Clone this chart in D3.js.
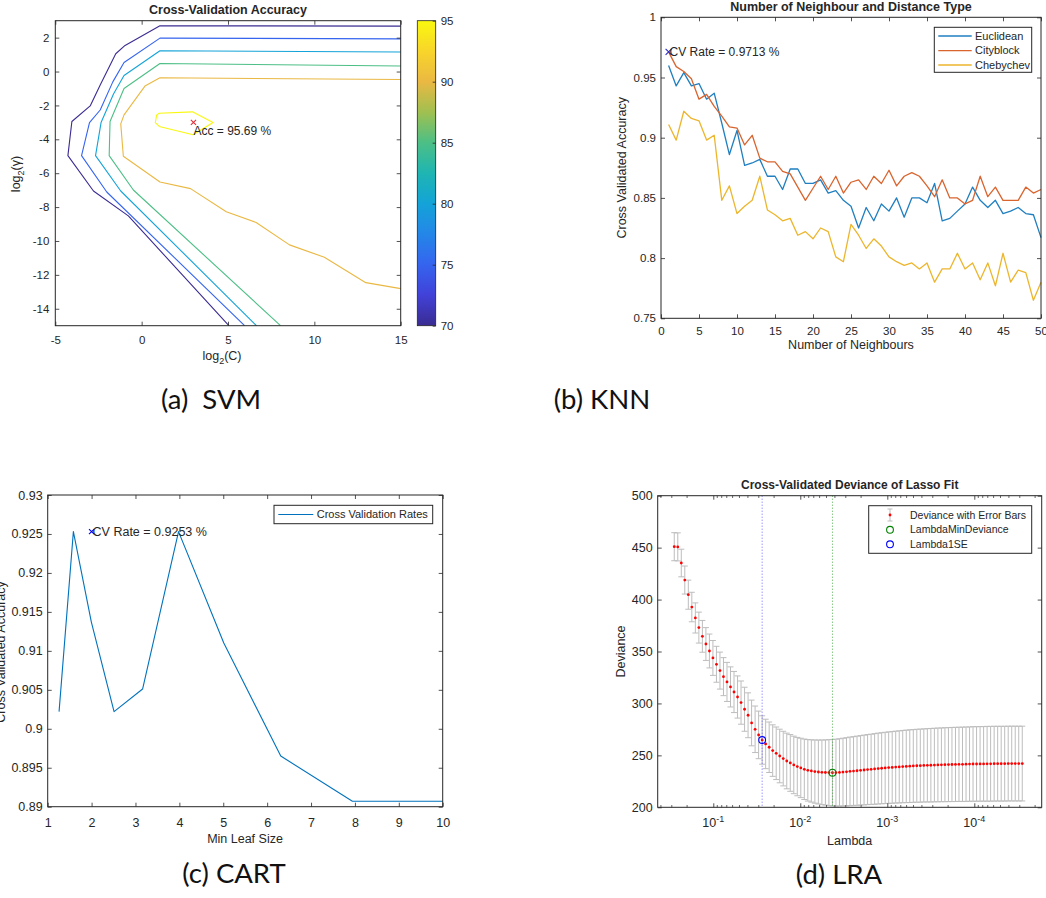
<!DOCTYPE html>
<html>
<head>
<meta charset="utf-8">
<script src="https://cdn.jsdelivr.net/npm/d3@7/dist/d3.min.js"></script>
<style>
  html, body { margin: 0; padding: 0; background: #fff; }
  svg { display: block; }
</style>
</head>
<body>
<svg id="fig" width="1046" height="898"></svg>
<script>
// ---------------------------------------------------------------
// (a) SVM grid search: contour lines of CV accuracy over log2(C), log2(gamma)
// ---------------------------------------------------------------
const svmLevels = [70, 75, 80, 85, 90, 95];
const svmContour70 = [[15, 2.68], [1.06, 2.70], [-0.96, 1.54], [-1.50, 1.05], [-2.40, -0.80], [-2.98, -2.03],
  [-4.04, -2.95], [-4.27, -4.96], [-2.79, -7.05], [-0.77, -8.52], [5.05, -15]];
const svmContour75 = [[15, 1.93], [1.06, 1.97], [-1.02, 0.53], [-1.67, -0.61], [-2.40, -2.27], [-3.02, -3.01],
  [-3.48, -4.96], [-2.02, -7.11], [5.96, -15]];
const svmContour80 = [[15, 1.15], [1.06, 1.23], [-1.02, -0.23], [-1.63, -1.33], [-2.35, -3.01], [-2.67, -4.96],
  [-1.21, -7.05], [6.65, -15]];
const svmContour85 = [[15, 0.33], [1.06, 0.47], [-1.02, -1.00], [-1.83, -2.95], [-1.88, -4.96], [-0.48, -6.99],
  [8.04, -15]];
const svmContour90 = [[15, -0.47], [1.06, -0.37], [0.19, -0.86], [-1.02, -2.56], [-1.21, -3.09], [-1.06, -5.00],
  [1.06, -6.52], [2.83, -6.91], [4.90, -8.28], [6.63, -8.91], [8.56, -10.23], [10.58, -10.96],
  [12.98, -12.46], [15, -12.81]];
const svmContour95 = [[0.87, -2.56], [1.02, -2.46], [2.94, -2.38], [4.13, -3.01], [2.98, -3.73], [1.02, -3.24],
  [0.79, -3.01], [0.87, -2.56]];
const svmContours = [svmContour70, svmContour75, svmContour80, svmContour85, svmContour90, svmContour95];
const svmBest = { log2C: 3, log2G: -3, acc: 95.69 };
const svmXTicks = [-5, 0, 5, 10, 15];
const svmYTicks = [-14, -12, -10, -8, -6, -4, -2, 0, 2];
const colorbarTicks = [70, 75, 80, 85, 90, 95];

// ---------------------------------------------------------------
// (b) KNN: CV accuracy against number of neighbours, per distance
// ---------------------------------------------------------------
const knnNeighbours = [1, 2, 3, 4, 5, 6, 7, 8, 9, 10, 11, 12, 13, 14, 15, 16, 17, 18, 19, 20,
  21, 22, 23, 24, 25, 26, 27, 28, 29, 30, 31, 32, 33, 34, 35, 36, 37, 38, 39, 40,
  41, 42, 43, 44, 45, 46, 47, 48, 49, 50];
const knnEuclidean = [0.960, 0.943, 0.954, 0.943, 0.945, 0.932, 0.937, 0.912, 0.886, 0.906,
  0.877, 0.879, 0.882, 0.868, 0.868, 0.857, 0.874, 0.874, 0.862, 0.862,
  0.865, 0.854, 0.856, 0.848, 0.843, 0.825, 0.842, 0.831, 0.845, 0.839,
  0.850, 0.834, 0.850, 0.850, 0.846, 0.862, 0.831, 0.833, 0.839, 0.845,
  0.859, 0.848, 0.842, 0.848, 0.837, 0.839, 0.842, 0.837, 0.836, 0.817];
const knnCityblock = [0.9713, 0.959, 0.955, 0.949, 0.932, 0.936, 0.926, 0.918, 0.909, 0.908,
  0.894, 0.902, 0.883, 0.880, 0.880, 0.872, 0.870, 0.859, 0.848, 0.858,
  0.868, 0.857, 0.868, 0.854, 0.863, 0.865, 0.857, 0.868, 0.862, 0.873,
  0.860, 0.868, 0.871, 0.868, 0.860, 0.851, 0.865, 0.850, 0.850, 0.845,
  0.848, 0.868, 0.851, 0.859, 0.848, 0.848, 0.848, 0.859, 0.854, 0.857];
const knnChebychev = [0.911, 0.898, 0.922, 0.916, 0.914, 0.898, 0.902, 0.848, 0.860, 0.837,
  0.843, 0.848, 0.868, 0.840, 0.836, 0.831, 0.833, 0.819, 0.822, 0.816,
  0.825, 0.822, 0.801, 0.797, 0.828, 0.819, 0.808, 0.816, 0.810, 0.801,
  0.797, 0.794, 0.796, 0.791, 0.796, 0.780, 0.791, 0.791, 0.804, 0.791,
  0.796, 0.782, 0.796, 0.777, 0.804, 0.780, 0.790, 0.788, 0.765, 0.780];
const knnSeriesNames = ["Euclidean", "Cityblock", "Chebychev"];
const knnBest = { k: 1, rate: 0.9713 };
const knnXTicks = [0, 5, 10, 15, 20, 25, 30, 35, 40, 45, 50];
const knnYTicks = [0.75, 0.8, 0.85, 0.9, 0.95, 1];

// ---------------------------------------------------------------
// (c) CART: CV accuracy against minimum leaf size
// ---------------------------------------------------------------
const cartLeafSize = [1.259, 1.585, 1.995, 2.512, 3.162, 3.981, 5.012, 6.310, 7.943, 10];
const cartRate = [0.9022, 0.9253, 0.9137, 0.9022, 0.9051, 0.9253, 0.9110, 0.8965, 0.8907, 0.8907];
const cartBest = { leaf: 2, rate: 0.9253 };
const cartXTicks = [1, 2, 3, 4, 5, 6, 7, 8, 9, 10];
const cartYTicks = [0.89, 0.895, 0.9, 0.905, 0.91, 0.915, 0.92, 0.925, 0.93];

// ---------------------------------------------------------------
// (d) Lasso: cross-validated deviance with standard-error bars
// ---------------------------------------------------------------
const lraLambda = [0.2810, 0.2560, 0.2333, 0.2126, 0.1937, 0.1765, 0.1608, 0.1465, 0.1335, 0.1216, 0.1108, 0.1010,
  9.201e-2, 8.384e-2, 7.639e-2, 6.960e-2, 6.342e-2, 5.779e-2, 5.265e-2, 4.798e-2, 4.371e-2, 3.983e-2,
  3.629e-2, 3.307e-2, 3.013e-2, 2.745e-2, 2.502e-2, 2.279e-2, 2.077e-2, 1.892e-2, 1.724e-2, 1.571e-2,
  1.431e-2, 1.304e-2, 1.188e-2, 1.083e-2,
  9.866e-3, 8.990e-3, 8.191e-3, 7.464e-3, 6.800e-3, 6.196e-3, 5.646e-3, 5.144e-3, 4.687e-3, 4.271e-3,
  3.891e-3, 3.546e-3, 3.231e-3, 2.944e-3, 2.682e-3, 2.444e-3, 2.227e-3, 2.029e-3, 1.849e-3, 1.685e-3,
  1.535e-3, 1.399e-3, 1.274e-3, 1.161e-3, 1.058e-3,
  9.640e-4, 8.783e-4, 8.003e-4, 7.292e-4, 6.644e-4, 6.054e-4, 5.516e-4, 5.026e-4, 4.580e-4, 4.173e-4,
  3.802e-4, 3.464e-4, 3.156e-4, 2.876e-4, 2.621e-4, 2.388e-4, 2.176e-4, 1.982e-4, 1.806e-4, 1.646e-4,
  1.500e-4, 1.367e-4, 1.245e-4, 1.134e-4, 1.034e-4,
  9.418e-5, 8.581e-5, 7.819e-5, 7.125e-5, 6.492e-5, 5.915e-5, 5.389e-5, 4.910e-5, 4.474e-5, 4.077e-5,
  3.714e-5, 3.385e-5, 3.084e-5, 2.810e-5];
const lraDeviance = [450.9, 450.7, 435.2, 418.8, 404.7, 392.8, 382.3, 373.0, 364.6, 357.2,
  350.5, 343.8, 337.7, 331.6, 325.8, 320.7, 315.9, 311.0, 306.2, 300.8,
  294.4, 288.6, 281.2, 275.1, 269.7, 264.8, 261.0, 257.8, 254.6, 252.0,
  249.4, 246.9, 244.6, 242.7, 240.8, 239.2, 237.9, 236.6, 235.6, 235.0,
  234.4, 234.0, 233.7, 233.5, 233.4, 233.3, 233.4, 233.6, 233.9, 234.2,
  234.6, 234.9, 235.2, 235.6, 235.9, 236.3, 236.6, 236.9, 237.3, 237.6,
  237.9, 238.2, 238.4, 238.7, 238.9, 239.2, 239.4, 239.6, 239.8, 240.0,
  240.1, 240.3, 240.4, 240.5, 240.7, 240.8, 240.9, 241.0, 241.1, 241.2,
  241.3, 241.4, 241.4, 241.5, 241.6, 241.7, 241.7, 241.8, 241.8, 241.9,
  241.9, 242.0, 242.0, 242.0, 242.0, 242.1, 242.1, 242.1, 242.1, 242.1];
const lraDevianceSE = [13.5, 13.5, 13.3, 13.5, 14.0, 14.2, 14.5, 14.9, 15.3, 15.8,
  16.3, 16.8, 17.3, 17.8, 18.3, 18.8, 19.3, 19.8, 20.3, 20.8,
  21.2, 21.6, 22.0, 22.4, 22.9, 23.3, 23.8, 24.3, 24.8, 25.3,
  25.8, 26.3, 26.8, 27.3, 27.7, 28.1, 28.6, 29.1, 29.6, 30.0,
  30.4, 30.8, 31.1, 31.4, 31.7, 32.0, 32.2, 32.4, 32.6, 32.8,
  33.0, 33.1, 33.3, 33.4, 33.6, 33.7, 33.8, 34.0, 34.1, 34.2,
  34.3, 34.4, 34.5, 34.6, 34.7, 34.8, 34.9, 35.0, 35.0, 35.1,
  35.2, 35.2, 35.3, 35.4, 35.4, 35.5, 35.5, 35.6, 35.6, 35.7,
  35.7, 35.7, 35.8, 35.8, 35.8, 35.9, 35.9, 35.9, 35.9, 36.0,
  36.0, 36.0, 36.0, 36.0, 36.0, 36.0, 36.0, 36.0, 36.0, 36.0];
const lraMinIndex = 45;   // LambdaMinDeviance
const lra1SEIndex = 25;   // Lambda1SE
const lraXMajor = [1e-1, 1e-2, 1e-3, 1e-4];
const lraXMajorExp = ["-1", "-2", "-3", "-4"];
const lraYTicks = [200, 250, 300, 350, 400, 450, 500];
const lraLegend = ["Deviance with Error Bars", "LambdaMinDeviance", "Lambda1SE"];

const captions = [
  { text: "(a)  SVM", x: 211, y: 409 },
  { text: "(b) KNN", x: 602, y: 409 },
  { text: "(c) CART", x: 234, y: 883 },
  { text: "(d) LRA", x: 839, y: 884 }
];

// ---------------------------------------------------------------
// shared styling and helpers
// ---------------------------------------------------------------
const FONT = '"Liberation Sans", Arial, Helvetica, sans-serif';
const CAPTION_FONT = 'Lato, "Open Sans", "Noto Sans", sans-serif';
const INK = "#262626";
const svg = d3.select("#fig");
svg.append("rect").attr("width", 1046).attr("height", 898).attr("fill", "#fff");

const fmtNum = d => String(+d.toFixed(4));

// Box axes with inward ticks on all four sides (labels only bottom/left)
function frame(g, x, y, cfg) {
  const T = cfg.tick ?? 4;
  const [xa, xb] = x.range();
  const [yb, ya] = y.range();
  const tidy = sel => {
    sel.select(".domain").remove();
    sel.selectAll(".tick line").attr("stroke", INK).attr("stroke-width", 0.8);
    sel.selectAll(".tick text").attr("fill", INK)
      .style("font-family", FONT).style("font-size", cfg.fs + "px");
  };
  const xf = cfg.xFmt || fmtNum, yf = cfg.yFmt || fmtNum;
  g.append("g").attr("transform", `translate(0,${yb})`)
    .call(d3.axisBottom(x).tickValues(cfg.xTicks).tickFormat(xf).tickSizeInner(-T).tickSizeOuter(0).tickPadding(cfg.xPad))
    .call(tidy);
  g.append("g").attr("transform", `translate(0,${ya})`)
    .call(d3.axisTop(x).tickValues(cfg.xTicks).tickFormat(() => "").tickSizeInner(-T).tickSizeOuter(0))
    .call(tidy);
  g.append("g").attr("transform", `translate(${xa},0)`)
    .call(d3.axisLeft(y).tickValues(cfg.yTicks).tickFormat(yf).tickSizeInner(-T).tickSizeOuter(0).tickPadding(cfg.yPad))
    .call(tidy);
  g.append("g").attr("transform", `translate(${xb},0)`)
    .call(d3.axisRight(y).tickValues(cfg.yTicks).tickFormat(() => "").tickSizeInner(-T).tickSizeOuter(0))
    .call(tidy);
  g.append("rect").attr("x", xa).attr("y", ya).attr("width", xb - xa).attr("height", yb - ya)
    .attr("fill", "none").attr("stroke", INK).attr("stroke-width", 1);
}

function label(g, txt, x, y, opts = {}) {
  return g.append("text").attr("x", x).attr("y", y)
    .attr("text-anchor", opts.anchor || "middle")
    .attr("fill", INK)
    .style("font-family", FONT)
    .style("font-size", (opts.fs || 12.5) + "px")
    .style("font-weight", opts.bold ? "bold" : "normal")
    .attr("transform", opts.rotate ? `rotate(-90,${x},${y})` : null)
    .text(txt);
}

function crossMark(g, cx, cy, r, color) {
  g.append("path")
    .attr("d", `M${cx - r},${cy - r}L${cx + r},${cy + r}M${cx - r},${cy + r}L${cx + r},${cy - r}`)
    .attr("stroke", color).attr("stroke-width", 1.1).attr("fill", "none");
}

// ---------------------------------------------------------------
// (a) SVM
// ---------------------------------------------------------------
{
  const g = svg.append("g");
  const x = d3.scaleLinear().domain([-5, 15]).range([55.3, 400.7]);
  const y = d3.scaleLinear().domain([-15, 3]).range([325.7, 20.7]);
  const parulaStops = ["#3a2c92", "#4141d8", "#3564ef", "#2486e8", "#14a3d8", "#1eb5b2",
    "#4cbf86", "#a0c050", "#eab843", "#f8d52a", "#f9f80f"];
  const color = d3.scaleSequential(d3.piecewise(d3.interpolateRgb, parulaStops)).domain([70, 95]);

  const line = d3.line().x(d => x(d[0])).y(d => y(d[1]));
  g.append("g").selectAll("path").data(svmContours).join("path")
    .attr("d", line)
    .attr("fill", "none")
    .attr("stroke", (d, i) => color(svmLevels[i]))
    .attr("stroke-width", 1.1)
    .attr("stroke-linejoin", "round");

  crossMark(g, x(svmBest.log2C), y(svmBest.log2G), 2.6, "#e0303a");
  label(g, `Acc = ${svmBest.acc} %`, x(svmBest.log2C), y(svmBest.log2G) + 12.4, { anchor: "start", fs: 12 });

  frame(g, x, y, { xTicks: svmXTicks, yTicks: svmYTicks, fs: 11.5, xPad: 10, yPad: 6 });

  label(g, "Cross-Validation Accuracy", 228, 13.5, { bold: true, fs: 12.5 });

  const xl = label(g, "log", 222, 360, { fs: 12.5 });
  xl.append("tspan").attr("dy", 3.5).style("font-size", "9px").text("2");
  xl.append("tspan").attr("dy", -3.5).text("(C)");

  const yl = label(g, "log", 20, 174, { fs: 12.5, rotate: true });
  yl.append("tspan").attr("dy", 3.5).style("font-size", "9px").text("2");
  yl.append("tspan").attr("dy", -3.5).text("(γ)");

  // colorbar
  const cb = { x0: 417.3, x1: 435.7 };
  const cy = d3.scaleLinear().domain([70, 95]).range([325.7, 20.7]);
  const grad = svg.append("defs").append("linearGradient").attr("id", "parulaBar")
    .attr("x1", 0).attr("y1", 1).attr("x2", 0).attr("y2", 0);
  grad.selectAll("stop").data(d3.range(0, 1.0001, 0.02)).join("stop")
    .attr("offset", d => d).attr("stop-color", d => color(70 + 25 * d));
  g.append("rect").attr("x", cb.x0).attr("y", 20.7).attr("width", cb.x1 - cb.x0).attr("height", 305)
    .attr("fill", "url(#parulaBar)");
  g.append("g").attr("transform", `translate(${cb.x1},0)`)
    .call(d3.axisRight(cy).tickValues(colorbarTicks).tickFormat(fmtNum).tickSizeInner(-3).tickSizeOuter(0).tickPadding(5))
    .call(sel => {
      sel.select(".domain").remove();
      sel.selectAll(".tick line").attr("stroke", INK).attr("stroke-width", 0.8);
      sel.selectAll(".tick text").attr("fill", INK).style("font-family", FONT).style("font-size", "11.5px");
    });
  g.append("rect").attr("x", cb.x0).attr("y", 20.7).attr("width", cb.x1 - cb.x0).attr("height", 305)
    .attr("fill", "none").attr("stroke", INK).attr("stroke-width", 0.8);
}

// ---------------------------------------------------------------
// (b) KNN
// ---------------------------------------------------------------
{
  const g = svg.append("g");
  const x = d3.scaleLinear().domain([0, 50]).range([661, 1041]);
  const y = d3.scaleLinear().domain([0.75, 1]).range([318.3, 17.3]);
  const colors = ["#1f7fc0", "#d9642e", "#ecb52c"];
  const series = [knnEuclidean, knnCityblock, knnChebychev];
  const line = d3.line().x((d, i) => x(knnNeighbours[i])).y(d => y(d));
  g.append("g").selectAll("path").data(series).join("path")
    .attr("d", line).attr("fill", "none")
    .attr("stroke", (d, i) => colors[i]).attr("stroke-width", 1.3).attr("stroke-linejoin", "round");

  crossMark(g, x(knnBest.k), y(knnBest.rate), 3, "#2a2ad0");
  label(g, `CV Rate = ${knnBest.rate} %`, x(knnBest.k) + 1, y(knnBest.rate), { anchor: "start", fs: 12 })
    .attr("dy", "0.35em");

  frame(g, x, y, { xTicks: knnXTicks, yTicks: knnYTicks, fs: 11.5, xPad: 9, yPad: 5 });

  label(g, "Number of Neighbour and Distance Type", 851, 10.5, { bold: true, fs: 12.5 });
  label(g, "Number of Neighbours", 851, 349, { fs: 12.5 });
  label(g, "Cross Validated Accuracy", 626.5, 167.8, { fs: 12.5, rotate: true });

  // legend
  const lg = g.append("g");
  lg.append("rect").attr("x", 934.3).attr("y", 27.3).attr("width", 97.4).attr("height", 45)
    .attr("fill", "#fff").attr("stroke", INK).attr("stroke-width", 1);
  const rows = [36, 50.6, 65];
  knnSeriesNames.forEach((name, i) => {
    lg.append("line").attr("x1", 938.3).attr("x2", 971.7).attr("y1", rows[i]).attr("y2", rows[i])
      .attr("stroke", colors[i]).attr("stroke-width", 1.3);
    label(lg, name, 975, rows[i], { anchor: "start", fs: 11 }).attr("dy", "0.35em");
  });
}

// ---------------------------------------------------------------
// (c) CART
// ---------------------------------------------------------------
{
  const g = svg.append("g");
  const x = d3.scaleLinear().domain([1, 10]).range([47.7, 442.7]);
  const y = d3.scaleLinear().domain([0.89, 0.93]).range([806.7, 495]);
  const blue = "#0072bd";
  const line = d3.line().x((d, i) => x(cartLeafSize[i])).y(d => y(d));
  g.append("path").datum(cartRate).attr("d", line).attr("fill", "none")
    .attr("stroke", blue).attr("stroke-width", 1.1).attr("stroke-linejoin", "round");

  crossMark(g, x(cartBest.leaf), y(cartBest.rate), 2.6, "#0000ff");
  label(g, `CV Rate = ${cartBest.rate} %`, x(cartBest.leaf) + 1, y(cartBest.rate), { anchor: "start", fs: 12.5 })
    .attr("dy", "0.35em");

  frame(g, x, y, { xTicks: cartXTicks, yTicks: cartYTicks, fs: 12.5, xPad: 11, yPad: 5 });

  label(g, "Min Leaf Size", 245, 843, { fs: 12.5 });
  label(g, "Cross Validated Accuracy", 4.5, 652, { fs: 12.5, rotate: true });

  const lg = g.append("g");
  lg.append("rect").attr("x", 274).attr("y", 505.3).attr("width", 158.7).attr("height", 18.4)
    .attr("fill", "#fff").attr("stroke", INK).attr("stroke-width", 1);
  lg.append("line").attr("x1", 278.3).attr("x2", 313.3).attr("y1", 514.5).attr("y2", 514.5)
    .attr("stroke", blue).attr("stroke-width", 1.1);
  label(lg, "Cross Validation Rates", 316.7, 514.5, { anchor: "start", fs: 11 }).attr("dy", "0.35em");
}

// ---------------------------------------------------------------
// (d) LRA (lasso)
// ---------------------------------------------------------------
{
  const g = svg.append("g");
  const x = d3.scaleLog().domain([0.4355, 1.68e-5]).range([657.7, 1041.7]);
  const y = d3.scaleLinear().domain([200, 500]).range([807.3, 495.7]);
  const rows = lraLambda.map((l, i) => ({ l, d: lraDeviance[i], s: lraDevianceSE[i] }));
  const barColor = "#bdbdbd", cap = 3;

  const eb = g.append("g").attr("stroke", barColor).attr("stroke-width", 1);
  eb.selectAll("line.v").data(rows).join("line").attr("class", "v")
    .attr("x1", r => x(r.l)).attr("x2", r => x(r.l))
    .attr("y1", r => y(r.d + r.s)).attr("y2", r => y(r.d - r.s));
  eb.selectAll("line.t").data(rows).join("line").attr("class", "t")
    .attr("x1", r => x(r.l) - cap).attr("x2", r => x(r.l) + cap)
    .attr("y1", r => y(r.d + r.s)).attr("y2", r => y(r.d + r.s));
  eb.selectAll("line.b").data(rows).join("line").attr("class", "b")
    .attr("x1", r => x(r.l) - cap).attr("x2", r => x(r.l) + cap)
    .attr("y1", r => y(r.d - r.s)).attr("y2", r => y(r.d - r.s));

  g.append("g").selectAll("circle").data(rows).join("circle")
    .attr("cx", r => x(r.l)).attr("cy", r => y(r.d)).attr("r", 1.4).attr("fill", "#ff0000");

  // reference lines at the selected lambdas
  const vline = (l, c) => g.append("line").attr("x1", x(l)).attr("x2", x(l))
    .attr("y1", 495.7).attr("y2", 807.3).attr("stroke", c).attr("stroke-width", 0.9)
    .attr("stroke-dasharray", "1,2");
  vline(lraLambda[lra1SEIndex], "#5a5aff");
  vline(lraLambda[lraMinIndex], "#3aa63a");

  g.append("circle").attr("cx", x(lraLambda[lraMinIndex])).attr("cy", y(lraDeviance[lraMinIndex]))
    .attr("r", 3.4).attr("fill", "none").attr("stroke", "#008000").attr("stroke-width", 1.1);
  g.append("circle").attr("cx", x(lraLambda[lra1SEIndex])).attr("cy", y(lraDeviance[lra1SEIndex]))
    .attr("r", 3.4).attr("fill", "none").attr("stroke", "#0000ff").attr("stroke-width", 1.1);

  frame(g, x, y, { xTicks: lraXMajor, xFmt: () => "", yTicks: lraYTicks, fs: 12.5, xPad: 10, yPad: 5 });

  // minor ticks of the log axis, bottom and top
  const minors = [];
  [1e-1, 1e-2, 1e-3, 1e-4, 1e-5].forEach(dec => {
    for (let m = 2; m <= 9; m++) {
      const v = m * dec;
      if (v < 0.4355 && v > 1.68e-5) minors.push(v);
    }
  });
  const minorTicks = g.append("g").attr("stroke", INK).attr("stroke-width", 0.7);
  minorTicks.selectAll("line.mb").data(minors).join("line").attr("class", "mb")
    .attr("x1", d => x(d)).attr("x2", d => x(d)).attr("y1", 807.3).attr("y2", 805);
  minorTicks.selectAll("line.mt").data(minors).join("line").attr("class", "mt")
    .attr("x1", d => x(d)).attr("x2", d => x(d)).attr("y1", 495.7).attr("y2", 498);

  lraXMajor.forEach((v, i) => {
    const t = label(g, "10", x(v), 827, { fs: 12.5 });
    t.append("tspan").attr("dy", -5).style("font-size", "9px").text(lraXMajorExp[i]);
  });

  label(g, "Cross-Validated Deviance of Lasso Fit", 849.7, 489, { bold: true, fs: 12 });
  label(g, "Lambda", 849.7, 845, { fs: 12.5 });
  label(g, "Deviance", 625, 651.5, { fs: 12.5, rotate: true });

  // legend
  const lg = g.append("g");
  lg.append("rect").attr("x", 868.7).attr("y", 505.7).attr("width", 163).attr("height", 47.6)
    .attr("fill", "#fff").attr("stroke", INK).attr("stroke-width", 1);
  const ly = [515, 529.8, 544.3], lx = 890;
  lg.append("line").attr("x1", lx).attr("x2", lx).attr("y1", 509).attr("y2", 521).attr("stroke", barColor);
  lg.append("line").attr("x1", lx - 2.5).attr("x2", lx + 2.5).attr("y1", 509).attr("y2", 509).attr("stroke", barColor);
  lg.append("line").attr("x1", lx - 2.5).attr("x2", lx + 2.5).attr("y1", 521).attr("y2", 521).attr("stroke", barColor);
  lg.append("circle").attr("cx", lx).attr("cy", ly[0]).attr("r", 1.4).attr("fill", "#ff0000");
  lg.append("circle").attr("cx", lx).attr("cy", ly[1]).attr("r", 3.4).attr("fill", "none")
    .attr("stroke", "#008000").attr("stroke-width", 1.1);
  lg.append("circle").attr("cx", lx).attr("cy", ly[2]).attr("r", 3.4).attr("fill", "none")
    .attr("stroke", "#0000ff").attr("stroke-width", 1.1);
  lraLegend.forEach((name, i) => {
    label(lg, name, 910, ly[i], { anchor: "start", fs: 10.5 }).attr("dy", "0.35em");
  });
}

// ---------------------------------------------------------------
// sub-figure captions
// ---------------------------------------------------------------
svg.append("g").selectAll("text").data(captions).join("text")
  .attr("x", d => d.x).attr("y", d => d.y)
  .attr("text-anchor", "middle")
  .attr("fill", "#111")
  .style("font-family", CAPTION_FONT)
  .style("font-size", "27.5px")
  .style("white-space", "pre")
  .text(d => d.text);
</script>
</body>
</html>
